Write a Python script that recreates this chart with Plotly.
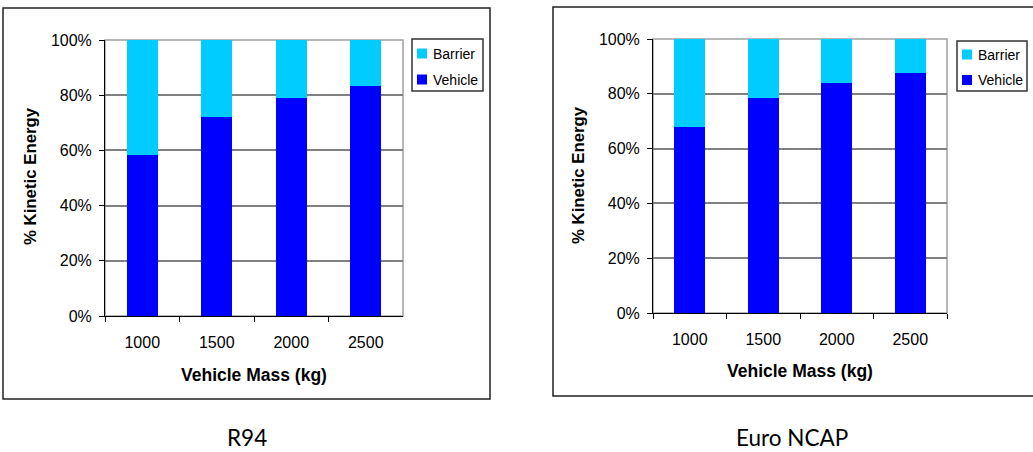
import plotly.graph_objects as go

# ---- data ----
masses = ["1000", "1500", "2000", "2500"]
r94_vehicle = [0.583, 0.721, 0.790, 0.833]
r94_barrier = [1 - v for v in r94_vehicle]
ncap_vehicle = [0.680, 0.786, 0.841, 0.875]
ncap_barrier = [1 - v for v in ncap_vehicle]
y_ticks = [0, 0.2, 0.4, 0.6, 0.8, 1.0]
series_names = ["Barrier", "Vehicle"]
panel_titles = ["R94", "Euro NCAP"]

W, H = 1033, 452
VEH = "#0000FF"
BAR = "#00CCFF"
FONT = "Liberation Sans, Arial, sans-serif"


def px(x):
    return x / W


def py(y):
    return 1 - y / H


fig = go.Figure()

fig.add_trace(go.Bar(x=masses, y=r94_vehicle, name="Vehicle", marker_color=VEH,
                     xaxis="x", yaxis="y"))
fig.add_trace(go.Bar(x=masses, y=r94_barrier, name="Barrier", marker_color=BAR,
                     xaxis="x", yaxis="y"))
fig.add_trace(go.Bar(x=masses, y=ncap_vehicle, name="Vehicle", marker_color=VEH,
                     xaxis="x2", yaxis="y2"))
fig.add_trace(go.Bar(x=masses, y=ncap_barrier, name="Barrier", marker_color=BAR,
                     xaxis="x2", yaxis="y2"))
for t in fig.data:
    t.marker.line.width = 0

xcommon = dict(type="category", showline=True, linecolor="black", linewidth=1,
               ticks="outside", ticklen=5, tickcolor="black", tickson="boundaries",
               showgrid=False, tickfont=dict(family=FONT, size=16, color="black"),
               range=[-0.5, 3.5], fixedrange=True, ticklabelstandoff=12,
               automargin=False)
ycommon = dict(range=[0, 1], tickvals=y_ticks, tickformat=".0%", showline=True,
               linecolor="black", linewidth=1, ticks="outside", ticklen=5,
               tickcolor="black", showgrid=True, gridcolor="#808080", gridwidth=1.5,
               zeroline=False, tickfont=dict(family=FONT, size=16, color="black"),
               ticklabelstandoff=4, automargin=False, fixedrange=True)

fig.update_layout(
    width=W, height=H, margin=dict(l=0, r=0, t=0, b=0),
    paper_bgcolor="white", plot_bgcolor="white",
    barmode="stack", bargap=0.58, showlegend=False,
    xaxis=dict(domain=[px(105), px(403)], anchor="y", **xcommon),
    yaxis=dict(domain=[py(316), py(40)], anchor="x", **ycommon),
    xaxis2=dict(domain=[px(653), px(947)], anchor="y2", **xcommon),
    yaxis2=dict(domain=[py(313), py(39)], anchor="x2", **ycommon),
)

shapes = []
ann = []
# outer chart boxes
shapes.append(dict(type="rect", xref="paper", yref="paper", x0=px(3), x1=px(490),
                   y0=py(399), y1=py(8), line=dict(color="#222", width=1.5),
                   layer="below"))
shapes.append(dict(type="rect", xref="paper", yref="paper", x0=px(553), x1=px(1040),
                   y0=py(396), y1=py(7), line=dict(color="#222", width=1.5),
                   layer="below"))
# plot-area frame (grey top/right)
for xa, ya in (("x", "y"), ("x2", "y2")):
    shapes.append(dict(type="rect", xref=f"{xa} domain", yref=f"{ya} domain",
                       x0=0, x1=1, y0=0, y1=1, line=dict(color="#a0a0a0", width=1.5),
                       layer="below"))
# darker 20%/40% gridlines on the right panel
for v in (0.2, 0.4):
    shapes.append(dict(type="line", xref="x2 domain", yref="y2", x0=0, x1=1,
                       y0=v, y1=v, line=dict(color="black", width=1.2), layer="below"))

# legends (drawn as boxes with colour keys and text)
legend_specs = [
    # box x0, x1, y0, y1, key x0, item y centres, text x
    (412, 483, 39, 91, 417, (53.5, 79.5), 431),
    (957, 1027, 41, 91, 962, (54.5, 80), 976),
]
colors = {"Barrier": BAR, "Vehicle": VEH}
for bx0, bx1, by0, by1, kx, ycs, tx in legend_specs:
    shapes.append(dict(type="rect", xref="paper", yref="paper", x0=px(bx0), x1=px(bx1),
                       y0=py(by1), y1=py(by0), line=dict(color="#333", width=1.5),
                       fillcolor="white"))
    for name, yc in zip(series_names, ycs):
        shapes.append(dict(type="rect", xref="paper", yref="paper",
                           x0=px(kx), x1=px(kx + 10), y0=py(yc + 5), y1=py(yc - 5),
                           line=dict(width=0), fillcolor=colors[name]))
        ann.append(dict(text=name, x=px(tx), y=py(yc), xref="paper", yref="paper",
                        xanchor="left", yanchor="middle", showarrow=False,
                        font=dict(family=FONT, size=14, color="black")))
fig.update_layout(shapes=shapes)

ann.append(dict(text="<b>% Kinetic Energy</b>", textangle=-90, x=px(31), y=py(176),
                xref="paper", yref="paper", showarrow=False,
                xanchor="center", yanchor="middle",
                font=dict(family=FONT, size=16.8, color="black")))
ann.append(dict(text="<b>% Kinetic Energy</b>", textangle=-90, x=px(578), y=py(175),
                xref="paper", yref="paper", showarrow=False,
                xanchor="center", yanchor="middle",
                font=dict(family=FONT, size=16.8, color="black")))
ann.append(dict(text="<b>Vehicle Mass (kg)</b>", x=px(254), y=py(375),
                xref="paper", yref="paper", showarrow=False,
                xanchor="center", yanchor="middle",
                font=dict(family=FONT, size=17.5, color="black")))
ann.append(dict(text="<b>Vehicle Mass (kg)</b>", x=px(800), y=py(371),
                xref="paper", yref="paper", showarrow=False,
                xanchor="center", yanchor="middle",
                font=dict(family=FONT, size=17.5, color="black")))
ann.append(dict(text=panel_titles[0], x=px(247), y=py(437), xref="paper", yref="paper",
                xanchor="center", yanchor="middle",
                showarrow=False, font=dict(family="Lato, sans-serif", size=22.5, color="black")))
ann.append(dict(text=panel_titles[1], x=px(792), y=py(437), xref="paper", yref="paper",
                xanchor="center", yanchor="middle",
                showarrow=False, font=dict(family="Lato, sans-serif", size=22.5, color="black")))
fig.update_layout(annotations=ann)

fig.write_html("out.html")
